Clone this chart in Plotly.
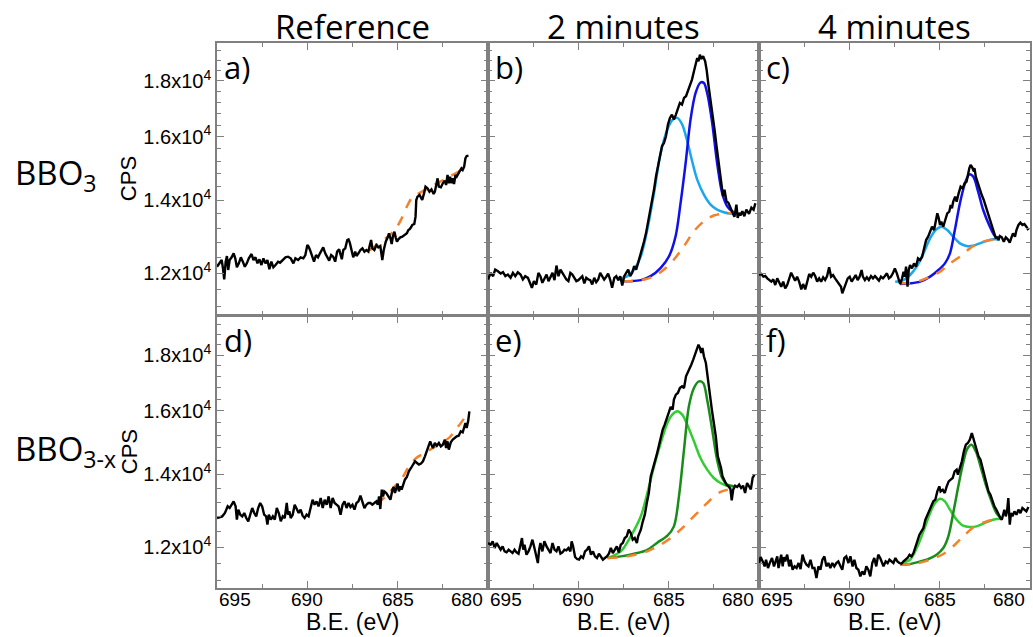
import plotly.graph_objects as go
from plotly.subplots import make_subplots

# ---------------- text / ticks ----------------
col_titles = ["Reference", "2 minutes", "4 minutes"]
row_labels = ["BBO<sub>3</sub>", "BBO<sub>3-x</sub>"]
panel_letters = ["a)", "b)", "c)", "d)", "e)", "f)"]
x_tick_vals = [695, 690, 685, 680]
x_tick_text = ["695", "690", "685", "680"]
x_minor_vals = [692.5, 687.5, 682.5]
y_tick_vals = [12000, 14000, 16000, 18000]
y_tick_text = ["1.2x10<sup>4</sup>", "1.4x10<sup>4</sup>", "1.6x10<sup>4</sup>", "1.8x10<sup>4</sup>"]
y_minor_vals = [11200, 11600, 12400, 12800, 13200, 13600, 14400, 14800, 15200, 15600,
                16400, 16800, 17200, 17600, 18400, 18800, 19200]

# ---------------- panel a) Reference, BBO3 ----------------
a_be = [695.00,694.85,694.74,694.67,694.60,694.52,694.45,694.38,694.30,694.19,
        694.08,693.99,693.90,693.79,693.68,693.57,693.46,693.35,693.24,693.09,
        692.98,692.87,692.76,692.65,692.54,692.43,692.32,692.21,692.10,691.99,
        691.88,691.76,691.62,691.51,691.36,691.21,691.07,690.92,690.77,690.66,
        690.51,690.37,690.22,690.11,690.00,689.93,689.85,689.74,689.63,689.52,
        689.41,689.30,689.19,689.12,689.01,688.90,688.79,688.68,688.57,688.46,
        688.35,688.24,688.16,688.09,688.01,687.90,687.79,687.72,687.65,687.57,
        687.46,687.35,687.28,687.17,687.06,686.95,686.84,686.73,686.62,686.54,
        686.47,686.40,686.29,686.18,686.07,685.96,685.85,685.77,685.66,685.55,
        685.48,685.40,685.33,685.26,685.18,685.11,685.04,684.96,684.85,684.74,
        684.63,684.56,684.49,684.41,684.34,684.26,684.19,684.08,684.01,683.97,
        683.90,683.79,683.71,683.64,683.53,683.46,683.35,683.24,683.13,683.01,
        682.94,682.87,682.79,682.72,682.61,682.50,682.39,682.32,682.24,682.17,
        682.10,682.02,681.95,681.88,681.80,681.73,681.65,681.58,681.47,681.40,
        681.32,681.25,681.18,681.08]
a_cps = [12168,12255,12341,12126,11848,12298,12446,12084,12341,12411,
         12516,12385,12152,12255,12411,12298,12168,12255,12385,12498,
         12341,12411,12255,12359,12212,12385,12255,12341,12101,12298,
         12152,12212,12298,12272,12341,12411,12428,12385,12255,12385,
         12341,12411,12385,12472,12738,12693,12604,12446,12298,12472,
         12411,12516,12604,12675,12516,12428,12324,12472,12428,12298,
         12560,12622,12428,12359,12604,12648,12873,12891,12800,12604,
         12411,12560,12446,12516,12604,12648,12560,12604,12560,12738,
         12873,12648,12604,12738,12675,12711,12341,12604,12827,12945,
         13055,12918,12764,12982,13101,12945,12827,12891,12945,12963,
         13009,13037,13055,13147,13166,13222,13286,13314,13522,14005,
         14104,14154,14055,14005,14223,14404,14354,14253,14323,14184,
         14253,14424,14660,14404,14384,14506,14588,14455,14763,14506,
         14711,14506,14660,14485,14763,14711,14815,14867,14973,14920,
         15025,15292,15367,15378]
a_bg_be = [686.55,686.0,685.5,685.1,684.8,684.5,684.2,683.9,683.4,682.9,682.4,681.9,681.3]
a_bg_cps = [12600,12800,12980,13180,13450,13800,14080,14180,14330,14480,14630,14780,14980]

# ---------------- panel b) 2 minutes, BBO3 ----------------
b_be = [695.00,694.85,694.72,694.60,694.45,694.30,694.17,694.04,693.90,693.75,
        693.62,693.49,693.35,693.20,693.07,692.94,692.79,692.68,692.57,692.46,
        692.33,692.21,692.10,691.99,691.88,691.76,691.65,691.54,691.43,691.32,
        691.21,691.10,690.99,690.88,690.77,690.66,690.55,690.44,690.33,690.22,
        690.11,690.00,689.89,689.78,689.67,689.56,689.45,689.34,689.23,689.12,
        689.01,688.90,688.79,688.68,688.57,688.46,688.35,688.24,688.13,688.01,
        687.90,687.79,687.68,687.57,687.46,687.35,687.24,687.13,687.02,686.91,
        686.80,686.69,686.58,686.47,686.36,686.25,686.14,686.03,685.92,685.81,
        685.70,685.59,685.48,685.37,685.26,685.15,685.04,684.93,684.82,684.71,
        684.60,684.49,684.38,684.26,684.15,684.04,683.93,683.82,683.71,683.60,
        683.49,683.42,683.35,683.27,683.20,683.09,682.98,682.90,682.79,682.68,
        682.57,682.46,682.35,682.24,682.13,682.06,681.99,681.91,681.80,681.69,
        681.58,681.47,681.36,681.25,681.18,681.10,681.03,680.92,680.81,680.70,
        680.55,680.42,680.30,680.20]
b_cps = [11844,12011,11927,12095,12052,11994,12027,11927,11968,11885,
         12011,11927,12027,11968,11844,11927,11885,11762,11639,11803,
         11721,12011,11927,11762,11844,11968,11803,11927,12011,11828,
         12198,11927,12095,12011,11927,11844,11803,12011,11968,11885,
         11803,11828,11885,11927,11746,11885,11844,11828,11721,11885,
         11777,11844,12011,11927,11844,11910,11994,11844,11639,11885,
         11927,11828,11927,11697,11927,12011,12095,11927,12011,12181,
         12095,12267,12440,12661,12840,13068,13345,13630,14016,14316,
         14723,15036,15359,15685,15796,16020,16418,16651,16768,16592,
         16768,16944,17184,17124,17366,17428,17612,17799,18050,18368,
         18694,18893,18760,19025,18852,18959,18760,18432,17799,17305,
         16768,16246,15685,15143,14620,14418,14115,14316,13967,13918,
         13772,13630,13515,13870,13487,13630,13554,13677,13534,13725,
         13600,13780,13720,13910]
b_hi_be = [687.83,687.28,686.91,686.54,686.18,685.81,685.44,685.07,684.80,684.52,
           684.25,683.97,683.70,683.42,683.05,682.68,682.32,681.95,681.58,681.30]
b_hi_cps = [11844,11927,12095,12440,13160,14215,15472,16246,16570,16651,
            16418,15850,15195,14620,14165,13870,13725,13650,13610,13610]
b_lo_be = [687.55,687.10,686.54,686.00,685.44,684.98,684.61,684.34,684.06,683.79,
           683.51,683.24,683.05,682.87,682.59,682.32,682.04,681.76,681.49,681.25]
b_lo_cps = [11803,11803,11828,11927,12140,12440,12990,13918,15143,16592,
            17549,17940,17922,17549,16473,15143,14213,13819,13677,13630]
b_bg_be = [687.55,686.91,686.36,685.81,685.26,684.71,684.15,683.60,683.05,682.50,681.95,681.30]
b_bg_cps = [11803,11803,11844,11927,12095,12354,12706,13114,13392,13554,13610,13630]

# ---------------- panel c) 4 minutes, BBO3 ----------------
c_be = [695.00,694.87,694.76,694.65,694.54,694.43,694.32,694.21,694.10,693.99,
        693.88,693.77,693.66,693.55,693.44,693.33,693.22,693.11,693.00,692.89,
        692.78,692.66,692.56,692.44,692.33,692.22,692.11,692.00,691.89,691.78,
        691.67,691.56,691.45,691.34,691.23,691.12,691.01,690.90,690.79,690.68,
        690.57,690.46,690.39,690.31,690.20,690.09,689.98,689.87,689.76,689.65,
        689.54,689.43,689.32,689.25,689.14,689.03,688.92,688.80,688.69,688.58,
        688.47,688.36,688.25,688.14,688.03,687.92,687.81,687.70,687.59,687.48,
        687.37,687.26,687.19,687.08,687.00,686.93,686.86,686.78,686.71,686.64,
        686.53,686.42,686.31,686.20,686.08,685.97,685.86,685.75,685.64,685.53,
        685.42,685.31,685.20,685.13,685.05,684.98,684.91,684.80,684.69,684.58,
        684.47,684.39,684.32,684.25,684.14,684.06,683.95,683.84,683.73,683.62,
        683.51,683.44,683.36,683.29,683.22,683.14,683.07,683.00,682.89,682.78,
        682.67,682.56,682.45,682.33,682.22,682.11,682.00,681.89,681.82,681.75,
        681.67,681.56,681.45,681.34,681.23,681.12,681.01,680.94,680.83,680.75,
        680.64,680.53,680.42,680.31,680.20,680.09]
c_cps = [11957,11982,11915,11932,11873,11831,11790,11848,11707,11873,
         11748,11666,11790,11625,11707,11873,12016,11915,11815,11915,
         11790,11601,11732,11601,11831,11982,11915,12016,11932,11790,
         11873,11790,11898,11831,11932,12151,11915,11957,11873,11790,
         11732,11666,11503,11601,11748,11873,11915,11790,11873,11957,
         11831,11915,12083,11915,11831,11898,11831,11932,11873,11932,
         11873,11815,11915,11873,11932,11999,11873,11915,11999,12126,
         11999,11790,11732,11873,12041,11915,12169,11666,12083,12211,
         12126,12254,12169,12384,12341,12428,12692,12872,12963,13100,
         13239,13146,13380,13617,13474,13286,13380,13239,13427,13617,
         13665,13858,13761,13956,14104,13956,14203,14404,14354,14506,
         14557,14815,14972,15077,15024,14919,14972,14711,14506,14354,
         14153,14005,13809,13617,13474,13239,13100,12917,12963,12872,
         12981,12945,12827,12945,12890,12800,12963,13054,12963,13146,
         13286,13351,13286,13314,13239,13146]
c_hi_be = [687.46,687.00,686.64,686.27,685.90,685.53,685.20,684.89,684.58,684.25,
           683.88,683.51,683.14,682.78,682.41,682.04,681.67]
c_hi_cps = [11790,11831,11957,12169,12514,12917,13160,13239,13146,12963,
            12782,12710,12720,12782,12845,12890,12890]
c_lo_be = [687.19,686.64,686.08,685.53,685.07,684.71,684.43,684.16,683.88,683.60,
           683.36,683.14,682.87,682.59,682.22,681.95,681.67]
c_lo_cps = [11732,11748,11790,11915,12083,12254,12514,13146,13906,14506,
            14780,14711,14253,13713,13239,12981,12890]
c_bg_be = [687.19,686.64,686.08,685.53,684.98,684.43,683.88,683.33,682.78,682.22,681.67]
c_bg_cps = [11748,11765,11815,11915,12041,12254,12428,12648,12800,12872,12890]

# ---------------- panel d) Reference, BBO3-x ----------------
d_be = [695.00,694.85,694.71,694.56,694.41,694.30,694.19,694.08,693.97,693.90,
        693.82,693.71,693.60,693.49,693.38,693.27,693.16,693.05,692.94,692.83,
        692.72,692.61,692.50,692.39,692.28,692.21,692.13,692.02,691.91,691.80,
        691.69,691.58,691.47,691.36,691.25,691.14,691.07,690.99,690.92,690.81,
        690.70,690.59,690.48,690.37,690.26,690.15,690.04,689.93,689.82,689.71,
        689.60,689.49,689.38,689.26,689.15,689.04,688.93,688.82,688.71,688.60,
        688.49,688.38,688.27,688.16,688.05,687.94,687.83,687.72,687.61,687.50,
        687.39,687.28,687.17,687.06,686.95,686.84,686.73,686.62,686.51,686.40,
        686.29,686.18,686.10,686.03,685.96,685.88,685.81,685.74,685.63,685.51,
        685.40,685.29,685.22,685.15,685.07,685.00,684.93,684.85,684.78,684.71,
        684.60,684.49,684.38,684.26,684.15,684.04,683.93,683.82,683.71,683.60,
        683.49,683.38,683.27,683.20,683.13,683.05,682.94,682.83,682.72,682.61,
        682.50,682.39,682.32,682.24,682.17,682.06,681.95,681.84,681.73,681.62,
        681.51,681.40,681.32,681.25,681.18,681.10,681.03]
d_cps = [12766,12793,12811,12902,13084,13038,13130,13223,13084,12722,
         12993,12856,12811,12902,12766,12677,12856,13038,12902,12811,
         13038,13177,13084,12856,12811,12588,12856,12722,12811,12722,
         13038,12902,12677,12811,12766,13177,12856,12947,12766,12856,
         13130,12993,12902,12993,12829,12766,12856,12811,13084,13269,
         13130,13223,13084,13316,13038,13269,13130,13363,13038,13316,
         13177,13130,13084,12856,13130,13223,13038,13177,13066,13130,
         12993,13177,13223,13382,13177,13038,13130,13177,13177,13130,
         13177,13223,13130,13363,13011,13552,13363,13505,13457,13363,
         13269,13552,13629,13457,13648,13725,13505,13648,13552,13696,
         13841,13919,14086,14186,14286,14387,14336,14286,14316,14387,
         14539,14693,14849,15006,14901,14797,14953,14870,14953,14849,
         14901,15059,14797,15006,14745,14974,15059,15112,15165,15186,
         15326,15294,15488,15598,15434,15652,15986]
d_bg_be = [686.18,685.63,685.17,684.80,684.43,683.97,683.51,683.05,682.59,682.13,681.67,681.30]
d_bg_cps = [13158,13363,13648,13841,14186,14488,14641,14797,14953,15133,15466,15763]

# ---------------- panel e) 2 minutes, BBO3-x ----------------
e_be = [695.00,694.85,694.74,694.63,694.52,694.41,694.30,694.19,694.08,693.97,
        693.86,693.75,693.64,693.53,693.42,693.31,693.20,693.12,693.05,692.98,
        692.87,692.76,692.65,692.54,692.43,692.32,692.24,692.17,692.10,691.99,
        691.88,691.76,691.65,691.54,691.43,691.32,691.21,691.10,690.99,690.88,
        690.77,690.66,690.55,690.44,690.37,690.29,690.18,690.07,689.96,689.85,
        689.74,689.63,689.52,689.41,689.30,689.19,689.08,688.97,688.86,688.75,
        688.64,688.53,688.42,688.31,688.20,688.09,687.98,687.87,687.76,687.65,
        687.54,687.43,687.32,687.21,687.10,686.99,686.88,686.76,686.69,686.62,
        686.54,686.43,686.32,686.21,686.10,685.99,685.88,685.77,685.66,685.55,
        685.44,685.33,685.22,685.11,685.00,684.89,684.78,684.71,684.60,684.49,
        684.38,684.26,684.15,684.04,683.97,683.86,683.75,683.64,683.53,683.42,
        683.35,683.27,683.20,683.13,683.05,682.94,682.83,682.72,682.61,682.50,
        682.39,682.28,682.17,682.10,682.02,681.91,681.80,681.69,681.58,681.51,
        681.43,681.32,681.21,681.10,680.99,680.88,680.77,680.66,680.45,680.35,680.25]
e_cps = [12111,12068,12154,11984,12111,12026,11942,12026,11900,11875,
         11942,11900,11858,11942,11875,11842,12111,12239,11942,12068,
         11817,11900,12026,12196,11984,11775,11611,11942,12111,11900,
         12154,12026,11942,11858,12111,11942,11900,12026,11842,11875,
         11942,11925,11984,11900,12154,12026,11759,11709,11693,11775,
         11734,11900,11942,12026,11817,11900,11775,11734,11842,11775,
         11693,11734,11775,11842,11984,11858,11942,12026,11875,12068,
         12111,12239,12282,12456,12369,12196,12239,12111,12282,12369,
         12456,12677,12856,13177,13457,13938,14136,14336,14590,14848,
         15165,15379,15542,15707,15930,16132,16042,16384,16557,16616,
         16792,16851,16792,17210,17331,17453,17638,17825,18014,18205,
         18398,18269,18078,18269,17951,17700,17089,16499,16042,15597,
         15165,14539,14336,14186,13938,13792,13696,13648,13571,13251,
         13552,13667,13629,13696,13600,13667,13457,13744,13560,13900,13980]
e_hi_be = [688.38,687.65,687.10,686.54,686.18,685.81,685.44,685.07,684.80,684.52,
           684.25,683.97,683.60,683.24,682.87,682.50,682.13,681.76,681.40]
e_hi_cps = [11734,11900,12282,12812,13457,14236,14953,15597,15874,15986,
            15874,15542,15006,14487,14136,13890,13744,13667,13648]
e_lo_be = [688.38,687.65,686.91,686.18,685.63,685.07,684.71,684.43,684.15,683.88,
           683.60,683.33,683.09,682.87,682.59,682.32,682.04,681.76,681.40]
e_lo_cps = [11734,11775,11842,11940,12120,12300,12544,13363,14745,16155,
            16792,17029,16970,16384,15379,14437,13890,13696,13648]
e_bg_be = [688.38,687.28,686.18,685.44,684.89,684.34,683.79,683.24,682.68,682.13,681.58,681.31]
e_bg_cps = [11734,11775,11900,12068,12239,12456,12720,12993,13269,13489,13571,13600]

# ---------------- panel f) 4 minutes, BBO3-x ----------------
f_be = [695.00,694.91,694.80,694.69,694.61,694.50,694.39,694.28,694.17,694.06,
        693.99,693.92,693.84,693.77,693.69,693.62,693.55,693.44,693.33,693.25,
        693.14,693.03,692.92,692.81,692.70,692.59,692.48,692.37,692.26,692.15,
        692.04,691.93,691.82,691.71,691.60,691.49,691.38,691.27,691.16,691.05,
        690.94,690.83,690.72,690.61,690.50,690.39,690.28,690.17,690.05,689.94,
        689.82,689.72,689.61,689.50,689.39,689.28,689.17,689.06,688.95,688.84,
        688.73,688.62,688.51,688.40,688.29,688.18,688.11,687.99,687.88,687.78,
        687.67,687.56,687.45,687.34,687.23,687.11,687.00,686.89,686.78,686.67,
        686.56,686.45,686.34,686.23,686.12,686.01,685.90,685.79,685.68,685.57,
        685.46,685.35,685.24,685.13,685.02,684.95,684.83,684.72,684.61,684.50,
        684.39,684.28,684.17,684.06,683.99,683.88,683.77,683.66,683.55,683.44,
        683.33,683.22,683.14,683.07,682.96,682.85,682.74,682.63,682.52,682.41,
        682.30,682.19,682.08,681.97,681.86,681.75,681.64,681.56,681.49,681.42,
        681.34,681.27,681.20,681.12,681.05,680.97,680.86,680.75,680.64,680.53,
        680.42,680.31,680.20,680.09]
f_cps = [11611,11758,11652,11529,11692,11489,11627,11734,11529,11652,
         11775,11489,11692,11816,11529,11758,11652,11816,11529,11692,
         11448,11529,11489,11611,11465,11816,11652,11570,11529,11692,
         11489,11489,11249,11529,11448,11692,11775,11529,11611,11489,
         11611,11529,11611,11652,11546,11448,11734,11775,11611,11775,
         11529,11692,11489,11448,11289,11409,11329,11529,11448,11289,
         11611,11734,11529,11816,11734,11611,11529,11652,11611,11692,
         11652,11611,11734,11652,11611,11594,11652,11692,11734,11816,
         11775,11858,12026,12153,12325,12412,12500,12721,12856,12992,
         13130,13223,13269,13504,13648,13504,13552,13457,13648,13792,
         13841,13889,14086,14135,13987,14185,14386,14693,14901,14953,
         15058,15272,15112,14901,14744,14539,14437,14185,13938,13696,
         13504,13410,13223,13084,12992,12856,12766,12721,12901,12992,
         12811,12947,13316,12588,12901,12811,12947,12856,12992,12901,
         13038,12992,12947,13066]
f_hi_be = [687.19,687.00,686.64,686.27,685.90,685.53,685.26,684.98,684.71,684.43,
           684.06,683.70,683.33,682.96,682.59,682.22,681.86,681.58]
f_hi_cps = [11570,11620,11692,11984,12412,12901,13177,13297,13223,12992,
            12721,12561,12526,12544,12614,12694,12739,12748]
f_lo_be = [687.19,686.64,686.27,685.72,685.17,684.80,684.52,684.25,683.97,683.70,
           683.48,683.24,683.00,682.74,682.45,682.13,681.86,681.58]
f_lo_cps = [11570,11586,11627,11692,11816,11984,12282,12901,13648,14336,
            14765,14901,14693,14236,13696,13223,12901,12748]
f_bg_be = [687.19,686.45,685.81,685.26,684.71,684.16,683.60,683.05,682.41,681.58]
f_bg_cps = [11570,11586,11652,11734,11858,12068,12325,12544,12676,12748]

# ---------------- styles ----------------
GRAY = "#808080"
ORANGE = "#f5822a"
BLUE_DARK = "#1010ea"
BLUE_LIGHT = "#1ba6ee"
GREEN_DARK = "#1a8c1a"
GREEN_LIGHT = "#33cc33"
TXT_FONT = "Open Sans"
NUM_FONT = "Liberation Sans, Arial"


def xr(i, dom=False):
    base = "x" if i == 1 else f"x{i}"
    return base + (" domain" if dom else "")


def yr(i, dom=False):
    base = "y" if i == 1 else f"y{i}"
    return base + (" domain" if dom else "")


fig = make_subplots(rows=2, cols=3, horizontal_spacing=0, vertical_spacing=0.0018)

panels = [
    dict(r=1, c=1, x=a_be, y=a_cps, bgx=a_bg_be, bgy=a_bg_cps),
    dict(r=1, c=2, x=b_be, y=b_cps, bgx=b_bg_be, bgy=b_bg_cps,
         hx=b_hi_be, hy=b_hi_cps, lx=b_lo_be, ly=b_lo_cps, hc=BLUE_LIGHT, lc=BLUE_DARK),
    dict(r=1, c=3, x=c_be, y=c_cps, bgx=c_bg_be, bgy=c_bg_cps,
         hx=c_hi_be, hy=c_hi_cps, lx=c_lo_be, ly=c_lo_cps, hc=BLUE_LIGHT, lc=BLUE_DARK),
    dict(r=2, c=1, x=d_be, y=d_cps, bgx=d_bg_be, bgy=d_bg_cps),
    dict(r=2, c=2, x=e_be, y=e_cps, bgx=e_bg_be, bgy=e_bg_cps,
         hx=e_hi_be, hy=e_hi_cps, lx=e_lo_be, ly=e_lo_cps, hc=GREEN_LIGHT, lc=GREEN_DARK),
    dict(r=2, c=3, x=f_be, y=f_cps, bgx=f_bg_be, bgy=f_bg_cps,
         hx=f_hi_be, hy=f_hi_cps, lx=f_lo_be, ly=f_lo_cps, hc=GREEN_LIGHT, lc=GREEN_DARK),
]

for p in panels:
    if "hx" in p:
        fig.add_trace(go.Scatter(x=p["hx"], y=p["hy"], mode="lines",
                                 line=dict(color=p["hc"], width=2.5, shape="spline", smoothing=0.9),
                                 showlegend=False, hoverinfo="skip"), row=p["r"], col=p["c"])
        fig.add_trace(go.Scatter(x=p["lx"], y=p["ly"], mode="lines",
                                 line=dict(color=p["lc"], width=2.5, shape="spline", smoothing=0.9),
                                 showlegend=False, hoverinfo="skip"), row=p["r"], col=p["c"])
    fig.add_trace(go.Scatter(x=p["bgx"], y=p["bgy"], mode="lines",
                             line=dict(color=ORANGE, width=2.5, dash="10px,9px", shape="spline", smoothing=0.8),
                             showlegend=False, hoverinfo="skip"), row=p["r"], col=p["c"])
    fig.add_trace(go.Scatter(x=p["x"], y=p["y"], mode="lines",
                             line=dict(color="black", width=2.4),
                             showlegend=False, hoverinfo="skip"), row=p["r"], col=p["c"])

y_ranges = {1: [4.041, 4.290], 2: [4.042, 4.291]}
for r in (1, 2):
    for c in (1, 2, 3):
        fig.update_xaxes(row=r, col=c, range=[695, 680], tickvals=x_tick_vals,
                         showticklabels=False, ticks="inside", ticklen=7, tickwidth=1.2,
                         tickcolor=GRAY, showline=True, linewidth=1.6, linecolor=GRAY,
                         mirror="allticks", showgrid=False, zeroline=False,
                         minor=dict(tickmode="array", tickvals=x_minor_vals, ticks="inside",
                                    ticklen=4, tickwidth=1, tickcolor=GRAY, showgrid=False))
        fig.update_yaxes(row=r, col=c, type="log", range=y_ranges[r],
                         tickvals=y_tick_vals, ticktext=y_tick_text,
                         showticklabels=(c == 1), ticks="inside", ticklen=7, tickwidth=1.2,
                         tickcolor=GRAY, showline=True, linewidth=1.6, linecolor=GRAY,
                         mirror="allticks", showgrid=False, zeroline=False,
                         tickfont=dict(family=NUM_FONT, size=20, color="black"),
                         minor=dict(tickmode="array", tickvals=y_minor_vals, ticks="inside",
                                    ticklen=4, tickwidth=1, tickcolor=GRAY, showgrid=False))

ann = []
# column titles
for i, t in enumerate(col_titles):
    ann.append(dict(text=t, xref=xr(i + 1, True), x=0.5, yref="paper", y=1.031,
                    xanchor="center", yanchor="middle", showarrow=False,
                    font=dict(family=TXT_FONT, size=33, color="black")))
# row labels
for lab, yy in zip(row_labels, [0.7578, 0.2532]):
    ann.append(dict(text=lab, xref="paper", x=-0.2515, yref="paper", y=yy,
                    xanchor="left", yanchor="middle", showarrow=False,
                    font=dict(family=TXT_FONT, size=33, color="black")))
# CPS titles
for yy in [0.7505, 0.2495]:
    ann.append(dict(text="CPS", xref="paper", x=-0.108, yref="paper", y=yy,
                    xanchor="center", yanchor="middle", textangle=-90, showarrow=False,
                    font=dict(family=NUM_FONT, size=22, color="black")))
# panel letters
for i, lt in enumerate(panel_letters):
    ann.append(dict(text=lt, xref=xr(i + 1, True), x=0.02, yref=yr(i + 1, True), y=0.912,
                    xanchor="left", yanchor="middle", showarrow=False,
                    font=dict(family=TXT_FONT, size=31, color="black")))
# x tick labels and titles for bottom row
for k in (4, 5, 6):
    for v, t in zip(x_tick_vals, x_tick_text):
        if v == 695:
            xa, xs = "left", 0
        elif v == 680:
            xa, xs = "right", -3
        else:
            xa, xs = "center", 0
        ann.append(dict(text=t, xref=xr(k), x=v, yref="paper", y=-0.022,
                        xanchor=xa, xshift=xs, yanchor="middle", showarrow=False,
                        font=dict(family=NUM_FONT, size=19, color="black")))
    ann.append(dict(text="B.E. (eV)", xref=xr(k, True), x=0.5, yref="paper", y=-0.0624,
                    xanchor="center", yanchor="middle", showarrow=False,
                    font=dict(family=NUM_FONT, size=23, color="black")))

fig.update_layout(width=1033, height=637, margin=dict(l=217, r=1, t=43, b=49),
                  paper_bgcolor="white", plot_bgcolor="white", annotations=ann,
                  showlegend=False)

fig.write_html("out.html", config={"displayModeBar": False},
               post_script="document.body.style.margin='0';document.body.style.overflow='hidden';")
